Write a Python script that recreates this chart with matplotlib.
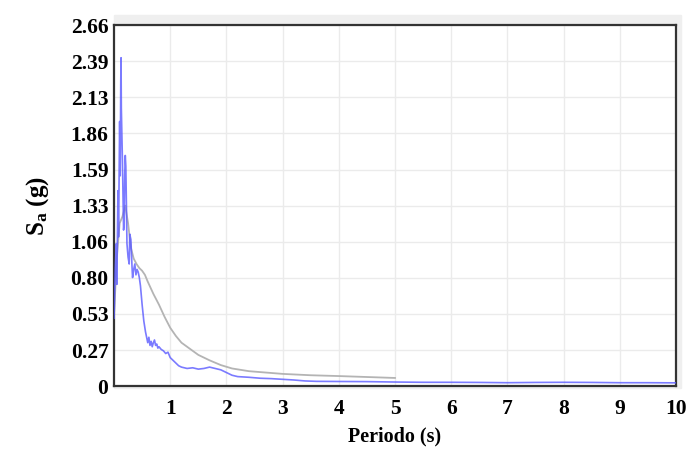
import numpy as np
import matplotlib
matplotlib.use("Agg")
import matplotlib.pyplot as plt
from matplotlib.patches import Rectangle

# registro (espectro de respuesta)
t_reg = [0.0, 0.02, 0.04, 0.05, 0.07, 0.08, 0.10, 0.11, 0.12, 0.125, 0.13, 0.14,
         0.15, 0.16, 0.17, 0.18, 0.19, 0.20, 0.21, 0.22, 0.23, 0.25, 0.27, 0.28,
         0.30, 0.32, 0.33, 0.35, 0.37, 0.39, 0.41, 0.43, 0.45, 0.47, 0.50, 0.53,
         0.56, 0.58, 0.60, 0.62, 0.64, 0.66, 0.68, 0.70, 0.72, 0.74, 0.76, 0.78,
         0.80, 0.84, 0.88, 0.92, 0.96, 1.00, 1.05, 1.10, 1.15, 1.20, 1.30, 1.40,
         1.50, 1.60, 1.70, 1.80, 1.90, 2.00, 2.10, 2.20, 2.40, 2.60, 2.80, 3.00,
         3.20, 3.40, 3.60, 4.00, 4.50, 5.00, 5.50, 6.00, 6.50, 7.00, 7.50, 8.00,
         8.50, 9.00, 9.50, 10.0]
sa_reg = [0.50, 0.85, 1.05, 0.75, 1.44, 1.10, 1.95, 1.55, 2.25, 2.42, 2.05, 1.85,
          1.65, 1.40, 1.15, 1.20, 1.55, 1.70, 1.62, 1.35, 1.05, 0.95, 0.90, 1.12,
          1.08, 0.88, 0.80, 0.86, 0.90, 0.82, 0.86, 0.84, 0.80, 0.74, 0.60, 0.48,
          0.40, 0.36, 0.32, 0.36, 0.30, 0.33, 0.29, 0.32, 0.34, 0.30, 0.31, 0.28,
          0.29, 0.27, 0.26, 0.24, 0.25, 0.21, 0.19, 0.17, 0.15, 0.14, 0.13, 0.135,
          0.125, 0.13, 0.14, 0.13, 0.12, 0.10, 0.08, 0.07, 0.065, 0.058, 0.055, 0.05,
          0.045, 0.038, 0.035, 0.034, 0.033, 0.030, 0.028, 0.028, 0.027, 0.025, 0.027, 0.028,
          0.027, 0.025, 0.025, 0.024]

# espectro de referencia (gris)
t_ref = [0.0, 0.05, 0.10, 0.15, 0.20, 0.25, 0.30, 0.35, 0.40, 0.45, 0.50, 0.55,
         0.60, 0.70, 0.80, 0.90, 1.0, 1.1, 1.2, 1.3, 1.4, 1.5, 1.7, 1.9, 2.1,
         2.4, 2.7, 3.0, 3.5, 4.0, 4.5, 5.0]
sa_ref = [0.52, 0.95, 1.20, 1.25, 1.33, 1.20, 1.02, 0.94, 0.90, 0.87, 0.85, 0.82,
          0.77, 0.68, 0.60, 0.51, 0.43, 0.37, 0.32, 0.29, 0.26, 0.23, 0.19, 0.155, 0.13,
          0.11, 0.10, 0.09, 0.08, 0.074, 0.067, 0.06]

y_ticks = [0, 0.266, 0.532, 0.798, 1.064, 1.33, 1.596, 1.862, 2.128, 2.394, 2.66]
y_labels = ["0", "0.27", "0.53", "0.80", "1.06", "1.33", "1.59", "1.86", "2.13", "2.39", "2.66"]
x_ticks = [1, 2, 3, 4, 5, 6, 7, 8, 9, 10]

plt.rcParams['font.family'] = 'Liberation Serif'
plt.rcParams['mathtext.fontset'] = 'custom'
plt.rcParams['mathtext.rm'] = 'Liberation Serif:bold'

fig = plt.figure(figsize=(6.89, 4.5), dpi=100)
l, b, r, t = 0.1655, 0.142, 0.981, 0.944
# sombra gris clara del marco
fig.patches.append(Rectangle((l, b - 0.004), r - l + 0.007, t - b + 0.026,
                             transform=fig.transFigure, color='#efefef', zorder=-5))
ax = fig.add_axes([l, b, r - l, t - b])
ax.set_zorder(2)
ax.set_facecolor('white')

ax.plot(t_ref, sa_ref, color='#b4b4b4', lw=1.3, zorder=2)
ax.plot(t_reg, sa_reg, color='#5a5aff', lw=1.2, alpha=0.8, zorder=3)

ax.set_xlim(0, 10)
ax.set_ylim(0, 2.66)
ax.set_xticks(x_ticks)
ax.set_yticks(y_ticks)
ax.set_yticklabels(y_labels)
ax.tick_params(length=0, labelsize=15.5, pad=4)
ax.tick_params(axis='x', pad=9)
for lab in ax.get_xticklabels() + ax.get_yticklabels():
    lab.set_fontweight('bold')
ax.grid(True, color='#ebebeb', lw=1)
ax.set_axisbelow(True)
for s in ax.spines.values():
    s.set_color('#333333')
    s.set_linewidth(1.6)

ax.set_xlabel("Periodo (s)", fontsize=14.5, fontweight='bold', labelpad=6)
ax.set_ylabel(r"S$\mathregular{_a}$ (g)", fontsize=18, fontweight='bold', labelpad=14)

fig.savefig("out.png", dpi=100)
